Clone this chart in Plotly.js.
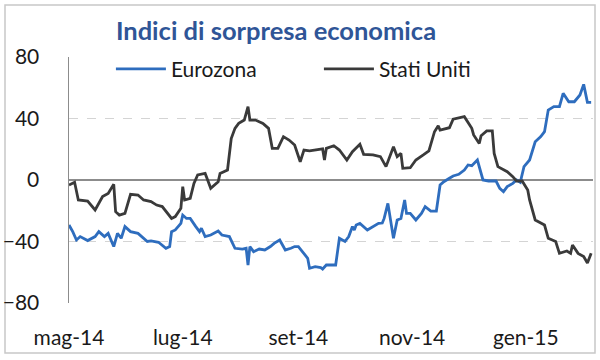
<!DOCTYPE html>
<html>
<head>
<meta charset="utf-8">
<script src="https://cdn.plot.ly/plotly-3.0.1.min.js"></script>
<style>
html,body{margin:0;padding:0;background:#fff;}
#chart{width:600px;height:360px;}
</style>
</head>
<body>
<div id="chart"></div>
<script>
// Tick labels
const tickDates = ['2014-05-01','2014-07-01','2014-09-01','2014-11-01','2015-01-01'];
const tickLabels = ['mag-14','lug-14','set-14','nov-14','gen-15'];

// Eurozona
const euDates = ['2014-05-01','2014-05-03','2014-05-05','2014-05-07','2014-05-11','2014-05-15','2014-05-17','2014-05-20','2014-05-22','2014-05-25','2014-05-27','2014-05-29','2014-05-31','2014-06-03','2014-06-07','2014-06-09','2014-06-12','2014-06-14','2014-06-18','2014-06-22','2014-06-24','2014-06-25','2014-06-27','2014-06-30','2014-07-01','2014-07-03','2014-07-05','2014-07-08','2014-07-10','2014-07-11','2014-07-13','2014-07-16','2014-07-20','2014-07-22','2014-07-26','2014-07-29','2014-08-02','2014-08-04','2014-08-05','2014-08-06','2014-08-08','2014-08-11','2014-08-14','2014-08-17','2014-08-19','2014-08-22','2014-08-25','2014-08-28','2014-08-30','2014-09-01','2014-09-04','2014-09-06','2014-09-07','2014-09-10','2014-09-13','2014-09-14','2014-09-16','2014-09-21','2014-09-22','2014-09-23','2014-09-26','2014-09-28','2014-09-30','2014-10-01','2014-10-02','2014-10-04','2014-10-08','2014-10-11','2014-10-14','2014-10-16','2014-10-17','2014-10-19','2014-10-22','2014-10-24','2014-10-26','2014-10-28','2014-10-29','2014-10-31','2014-11-03','2014-11-06','2014-11-08','2014-11-11','2014-11-14','2014-11-16','2014-11-18','2014-11-21','2014-11-23','2014-11-26','2014-11-29','2014-12-01','2014-12-03','2014-12-06','2014-12-07','2014-12-09','2014-12-12','2014-12-16','2014-12-18','2014-12-20','2014-12-22','2014-12-25','2014-12-27','2014-12-29','2014-12-31','2015-01-02','2015-01-03','2015-01-06','2015-01-09','2015-01-11','2015-01-12','2015-01-13','2015-01-16','2015-01-19','2015-01-21','2015-01-24','2015-01-27','2015-01-30','2015-02-01','2015-02-03','2015-02-05'];
const euValues = [-29.3,-33.6,-39,-36.8,-39.4,-36.8,-33.6,-36.8,-34.7,-43.3,-34.7,-37.9,-30.3,-33.6,-34.7,-36.8,-40,-39.6,-40.5,-44.4,-43.3,-33.6,-32.5,-28.2,-22.8,-25,-25,-30.3,-33.6,-31.4,-36.8,-35.8,-33.2,-35.8,-36.8,-44.4,-45,-44.4,-55.3,-43.3,-46.6,-44.9,-45.5,-43.3,-41.2,-39,-45.5,-44.4,-43.3,-43.3,-47.7,-50.9,-57.4,-56.4,-57,-57.9,-55.3,-55.3,-46.6,-37.9,-40,-36.8,-30.3,-32.5,-29.3,-28.2,-32.5,-30.3,-28.2,-28,-25,-15.2,-37.9,-26,-25,-13,-21.7,-21.7,-26,-21.7,-17.3,-20.2,-20.2,-3.3,-1.1,1.1,2.6,3.7,6.5,9.8,9.3,13,8.7,0,-0.65,-0.65,-5.4,-7.6,-4.3,-2.2,0,-1.5,8.7,11.9,13,24.9,28.2,31.4,37.9,45.5,47.7,47.7,56.4,50.9,50.9,55.3,62.2,50.5,50.5];

// Stati Uniti
const usDates = ['2014-05-01','2014-05-04','2014-05-06','2014-05-11','2014-05-15','2014-05-19','2014-05-22','2014-05-25','2014-05-26','2014-05-28','2014-05-31','2014-06-03','2014-06-07','2014-06-10','2014-06-14','2014-06-17','2014-06-20','2014-06-23','2014-06-25','2014-06-27','2014-06-30','2014-07-01','2014-07-02','2014-07-05','2014-07-07','2014-07-09','2014-07-13','2014-07-14','2014-07-16','2014-07-20','2014-07-21','2014-07-25','2014-07-27','2014-07-29','2014-07-31','2014-08-03','2014-08-05','2014-08-06','2014-08-09','2014-08-13','2014-08-16','2014-08-18','2014-08-21','2014-08-24','2014-08-27','2014-08-30','2014-09-02','2014-09-04','2014-09-07','2014-09-14','2014-09-15','2014-09-16','2014-09-20','2014-09-23','2014-09-27','2014-09-30','2014-10-01','2014-10-04','2014-10-06','2014-10-11','2014-10-15','2014-10-18','2014-10-22','2014-10-24','2014-10-26','2014-10-27','2014-10-31','2014-11-03','2014-11-07','2014-11-10','2014-11-13','2014-11-15','2014-11-16','2014-11-21','2014-11-23','2014-11-29','2014-12-03','2014-12-04','2014-12-07','2014-12-08','2014-12-11','2014-12-14','2014-12-15','2014-12-17','2014-12-22','2014-12-25','2014-12-27','2014-12-30','2015-01-02','2015-01-03','2015-01-06','2015-01-11','2015-01-13','2015-01-17','2015-01-19','2015-01-23','2015-01-25','2015-01-26','2015-01-29','2015-02-01','2015-02-03','2015-02-05'];
const usValues = [-3.3,-1.5,-13,-13.7,-19.5,-10.8,-8.7,-2.8,-20.6,-22.8,-21.7,-9.3,-9.8,-13,-14,-16.3,-17.3,-21.7,-25,-23.8,-18.4,-4.3,-13,-11.9,-2.2,3.3,4.3,1.1,-5.4,-1.1,4.3,6.5,27,33.6,36.8,39,47.7,39,39,36.8,33.6,20.6,20.6,28.2,26,22.8,11.9,19.5,18.9,20.2,13,20.6,22.3,19.5,13,18.4,19.5,23.2,16.7,16.3,15.2,8.7,21.7,15.2,17.3,7.6,8,13,16.3,18.9,31.4,35.3,32.5,34,39.6,41.2,33.6,29.3,23.8,28.8,31.9,31.9,17.3,8.7,5.4,2.2,-0.65,-0.65,-6.5,-13,-26,-29.3,-37.9,-40,-47.7,-46.2,-47.7,-42.3,-47.7,-49.8,-54,-47.7];

const traces = [
  {x: euDates, y: euValues, name: 'Eurozona', type: 'scatter', mode: 'lines',
   line: {color: '#2E6DBE', width: 2.8}},
  {x: usDates, y: usValues, name: 'Stati Uniti', type: 'scatter', mode: 'lines',
   line: {color: '#3A3A3A', width: 2.8}}
];

const layout = {
  width: 600, height: 360,
  margin: {l: 69, r: 7, t: 57, b: 57},
  paper_bgcolor: '#ffffff', plot_bgcolor: '#ffffff',
  font: {family: 'Lato, sans-serif', size: 21, color: '#1a1a1a'},
  title: {text: 'Indici di sorpresa economica', x: 0.46, xanchor: 'center', y: 0.915, yanchor: 'middle',
          font: {family: 'Lato, sans-serif', size: 25.5, color: '#2F5597', weight: 'bold'}},
  showlegend: true,
  legend: {orientation: 'h', x: 0.08, xanchor: 'left', y: 0.95, yanchor: 'middle',
           font: {size: 21, color: '#1a1a1a'}, bgcolor: 'rgba(0,0,0,0)',
           entrywidth: 143, itemwidth: 50},
  xaxis: {type: 'date', range: ['2014-05-01', '2015-02-06'],
          tickvals: tickDates, ticktext: tickLabels, showgrid: false, zeroline: false,
          showline: false, ticks: '', ticklabelstandoff: 20, fixedrange: true},
  yaxis: {range: [-80, 80], tickvals: [-80, -40, 0, 40, 80], showgrid: true,
          gridcolor: '#d4d4d4', griddash: 'dash', gridwidth: 1,
          zeroline: true, zerolinecolor: '#8c8c8c', zerolinewidth: 1.5,
          showline: true, linecolor: '#8c8c8c', linewidth: 1.5, ticks: '',
          ticklabelstandoff: 24, fixedrange: true},
  shapes: [{type: 'rect', xref: 'paper', yref: 'paper',
            x0: -64/524, x1: 526/524, y0: -50/246, y1: 298/246,
            line: {color: '#c8c8c8', width: 1.5}, fillcolor: 'rgba(0,0,0,0)', layer: 'below'}]
};

Plotly.newPlot('chart', traces, layout, {displayModeBar: false, staticPlot: true});
</script>
</body>
</html>
